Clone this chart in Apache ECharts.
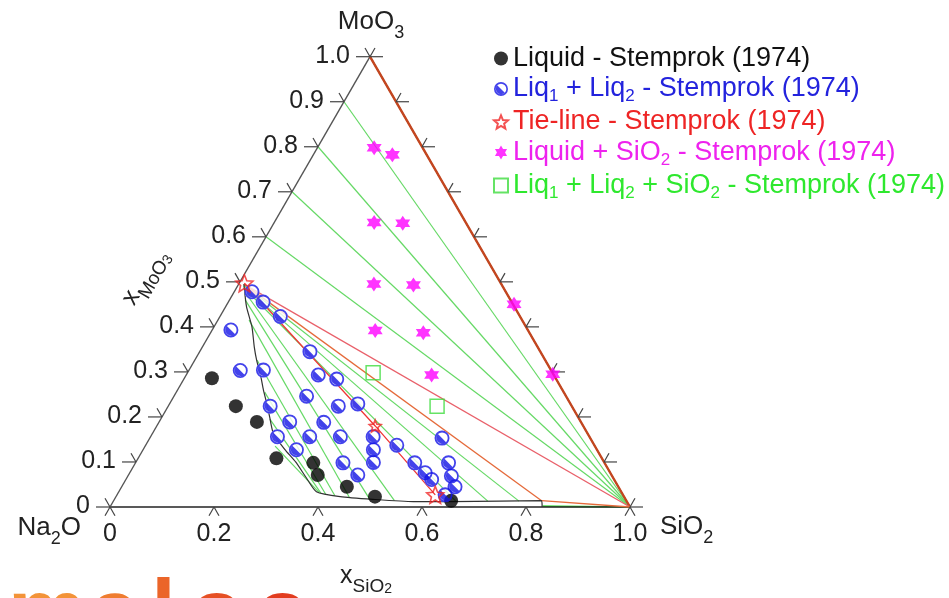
<!DOCTYPE html>
<html><head><meta charset="utf-8">
<script src="https://cdn.jsdelivr.net/npm/echarts@6/dist/echarts.min.js"></script>
<style>html,body{margin:0;padding:0;background:#fff}#c{width:949px;height:598px}</style>
</head><body><div id="c"></div>
<script>
// ---- data: every point is [x_SiO2, x_MoO3] ----
const liquid = [[0.053,0.286],[0.130,0.224],[0.188,0.189],[0.266,0.108],[0.342,0.098],[0.364,0.071],[0.433,0.045],[0.498,0.023],[0.649,0.014]];
const liq1liq2 = [[0.034,0.478],[0.067,0.455],[0.116,0.423],[0.036,0.393],[0.212,0.345],[0.099,0.303],[0.143,0.304],[0.254,0.293],[0.294,0.284],[0.255,0.246],[0.196,0.224],[0.327,0.224],[0.362,0.229],[0.251,0.189],[0.317,0.188],[0.244,0.156],[0.306,0.156],[0.365,0.156],[0.428,0.156],[0.562,0.153],[0.295,0.127],[0.443,0.127],[0.483,0.137],[0.399,0.098],[0.457,0.099],[0.537,0.098],[0.602,0.098],[0.441,0.071],[0.568,0.076],[0.588,0.061],[0.622,0.069],[0.641,0.045],[0.631,0.027]];
const tieLine = [[0.010,0.497],[0.420,0.180],[0.612,0.027]];
const liqSiO2 = [[0.109,0.798],[0.152,0.782],[0.192,0.632],[0.248,0.630],[0.260,0.495],[0.337,0.493],[0.314,0.392],[0.409,0.387],[0.472,0.293],[0.552,0.450],[0.704,0.295]];
const liq1liq2SiO2 = [[0.357,0.298],[0.517,0.224]];

// calculated phase boundaries
const gapBoundary = [[0.010,0.495],[0.040,0.445],[0.073,0.400],[0.100,0.355],[0.119,0.326],[0.145,0.290],[0.165,0.260],[0.190,0.225],[0.207,0.200],[0.232,0.164],[0.272,0.128],[0.307,0.100],[0.345,0.065],[0.380,0.034],[0.431,0.023],[0.497,0.017],[0.577,0.012],[0.650,0.012],[0.743,0.013],[0.823,0.014],[0.831,0.000]];
const gapTieStarts = [[0.011,0.493],[0.012,0.490],[0.014,0.487],[0.020,0.478],[0.030,0.460],[0.060,0.415],[0.120,0.326],[0.170,0.255],[0.210,0.195],[0.250,0.135]];
const gapTieEnds   = [[0.780,0.013],[0.720,0.013],[0.660,0.012],[0.540,0.014],[0.490,0.018],[0.450,0.021],[0.420,0.025],[0.400,0.029],[0.390,0.031],[0.385,0.033]];
const siO2TieStarts = [[0,0.6],[0,0.7],[0,0.8],[0,0.9]];
const liq1Corner = [0.010,0.495];
const liq2Corner = [0.823,0.014];
const siO2Corner = [1,0];

// ticks / labels
const bottomTickValues = [0,0.2,0.4,0.6,0.8,1.0];
const bottomTickLabels = ['0','0.2','0.4','0.6','0.8','1.0'];
const leftTickValues = [0,0.1,0.2,0.3,0.4,0.5,0.6,0.7,0.8,0.9,1.0];
const leftTickLabels = ['0','0.1','0.2','0.3','0.4','0.5','0.6','0.7','0.8','0.9','1.0'];
const rightTickValues = [0,0.1,0.2,0.3,0.4,0.5,0.6,0.7,0.8,0.9,1.0];

const legendNames = ['Liquid - Stemprok (1974)','Liq1 + Liq2 - Stemprok (1974)','Tie-line - Stemprok (1974)','Liquid + SiO2 - Stemprok (1974)','Liq1 + Liq2 + SiO2 - Stemprok (1974)'];
const legendRich = [
  '{k|Liquid - Stemprok (1974)}',
  '{b|Liq}{bs|1}{b| + Liq}{bs|2}{b| - Stemprok (1974)}',
  '{r|Tie-line - Stemprok (1974)}',
  '{m|Liquid + SiO}{ms|2}{m| - Stemprok (1974)}',
  '{g|Liq}{gs|1}{g| + Liq}{gs|2}{g| + SiO}{gs|2}{g| - Stemprok (1974)}'
];

// ---- ternary -> cartesian (X along base, Y = x_MoO3) ----
const t = p => [p[0] + p[1] / 2, p[1]];
const FONT = '"Liberation Sans", Arial, Helvetica, sans-serif';

function starPath(n, ri) {
  let d = '';
  for (let k = 0; k < 2 * n; k++) {
    const r = k % 2 === 0 ? 10 : 10 * ri;
    const a = -Math.PI / 2 + k * Math.PI / n;
    d += (k === 0 ? 'M' : 'L') + (10 + r * Math.cos(a)).toFixed(3) + ',' + (10 + r * Math.sin(a)).toFixed(3);
  }
  return 'path://' + d + 'Z';
}
const star5 = starPath(5, 0.45);
const star6 = starPath(6, 0.58);
const halfCircle = 'path://M0,10A10,10 0 1,0 20,10A10,10 0 1,0 0,10Z M2.4,10A7.6,7.6 0 1,1 17.6,10A7.6,7.6 0 1,1 2.4,10Z M4.63,4.63L15.37,15.37A7.6,7.6 0 0,1 4.63,4.63Z';

const series = [];
function addLine(pts, color, width, z, smooth) {
  series.push({type:'line', data: pts.map(t), symbol:'none', silent:true, clip:false, z:z, smooth: smooth || false,
    lineStyle:{color:color, width:width}, emphasis:{disabled:true}, animation:false});
}
// green tie-lines
siO2TieStarts.forEach(p => addLine([p, siO2Corner], '#66d966', 1.2, 2));
gapTieStarts.forEach((p, i) => addLine([p, gapTieEnds[i]], '#66d966', 1.2, 2));
addLine([[0.831,0.002], siO2Corner], '#44dd44', 1.6, 2);
// triangle edges
addLine([[0,0],[1,0]], '#222', 1.4, 3);
addLine([[0,0],[0,1]], '#555', 1.4, 3);
addLine([[0,1],[1,0]], '#333', 1.4, 3);
addLine([[0,1],[1,0]], '#c4461f', 2.4, 3);
// three-phase triangle
addLine([liq1Corner, siO2Corner], '#e9606a', 1.3, 3);
addLine([liq1Corner, liq2Corner], '#e56a3a', 1.3, 3);
addLine([liq2Corner, siO2Corner], '#e56a3a', 1.3, 3);
// miscibility gap boundary
addLine(gapBoundary, '#333', 1.2, 3, 0.2);
// measured tie-line
addLine(tieLine, '#f03535', 1.3, 3);

// points
series.push({type:'scatter', name:legendNames[0], data: liquid.map(t), symbol:'circle', symbolSize:14, clip:false, z:6,
  itemStyle:{color:'#000'}});
series.push({type:'scatter', name:'_bg', data: liq1liq2.map(t), symbol:'circle', symbolSize:15, clip:false, z:5,
  itemStyle:{color:'#fff'}});
series.push({type:'scatter', name:legendNames[1], data: liq1liq2.map(t), symbol:halfCircle, symbolSize:15, clip:false, z:6,
  itemStyle:{color:'#1414e6'}});
series.push({type:'scatter', name:legendNames[2], data: tieLine.map(t), symbol:star5, symbolSize:(v, p) => p.dataIndex === 1 ? 12 : 17, clip:false, z:7,
  itemStyle:{color:'rgba(255,255,255,0)', borderColor:'#f02525', borderWidth:1.6}});
series.push({type:'scatter', name:legendNames[3], data: liqSiO2.map(t), symbol:star6, symbolSize:15, clip:false, z:6,
  itemStyle:{color:'#ff00ff'}});
series.push({type:'scatter', name:legendNames[4], data: liq1liq2SiO2.map(t), symbol:'rect', symbolSize:14, clip:false, z:6,
  itemStyle:{color:'rgba(255,255,255,0)', borderColor:'#3fdc3f', borderWidth:1.5}});

// ticks
const tickStyle = {stroke:'#444', lineWidth:1.2};
series.push({type:'custom', silent:true, z:4, clip:false, animation:false,
  data: bottomTickValues.map(s => t([s,0])),
  renderItem: (params, api) => {
    const p = api.coord([api.value(0), api.value(1)]);
    return {type:'group', children:[
      {type:'line', shape:{x1:p[0], y1:p[1], x2:p[0]-5, y2:p[1]+8.7}, style:tickStyle},
      {type:'line', shape:{x1:p[0], y1:p[1], x2:p[0]+5, y2:p[1]+8.7}, style:tickStyle}]};
  }});
series.push({type:'custom', silent:true, z:4, clip:false, animation:false,
  data: leftTickValues.map((m, i) => t([0,m]).concat([i])),
  renderItem: (params, api) => {
    const p = api.coord([api.value(0), api.value(1)]);
    const i = api.value(2);
    return {type:'group', children:[
      {type:'line', shape:{x1:p[0], y1:p[1], x2:p[0]-14, y2:p[1]}, style:tickStyle},
      {type:'line', shape:{x1:p[0], y1:p[1], x2:p[0]-5, y2:p[1]-8.7}, style:tickStyle},
      {type:'text', x:p[0]-20, y:p[1]-1, style:{text:leftTickLabels[i], fill:'#222', fontSize:25, fontFamily:FONT, align:'right', verticalAlign:'middle'}}]};
  }});
series.push({type:'custom', silent:true, z:4, clip:false, animation:false,
  data: rightTickValues.map(m => t([1-m,m])),
  renderItem: (params, api) => {
    const p = api.coord([api.value(0), api.value(1)]);
    return {type:'group', children:[
      {type:'line', shape:{x1:p[0], y1:p[1], x2:p[0]+13, y2:p[1]}, style:tickStyle},
      {type:'line', shape:{x1:p[0], y1:p[1], x2:p[0]+5, y2:p[1]-8.7}, style:tickStyle}]};
  }});

function richMain(size, lh) { return {fontSize:size, lineHeight:lh, fontFamily:FONT, fill:'#222'}; }
function richSub(size, lh) { return {fontSize:size, lineHeight:lh, fontFamily:FONT, fill:'#222', verticalAlign:'bottom'}; }

const option = {
  animation:false,
  backgroundColor:'#fff',
  grid:{left:110, top:56.7, width:520, height:450.3, containLabel:false, outerBoundsMode:'none'},
  xAxis:{type:'value', min:0, max:1, interval:0.2,
    axisLine:{show:false}, axisTick:{show:false}, splitLine:{show:false},
    axisLabel:{fontSize:25, color:'#222', margin:15, fontFamily:FONT,
      formatter: v => bottomTickLabels[Math.round(v / 0.2)]}},
  yAxis:{type:'value', min:0, max:1, show:false},
  legend:{orient:'vertical', left:493, top:45, padding:0, itemWidth:14, itemHeight:14, itemGap:3.5, selectedMode:false,
    data: legendNames.map((n, i) => ({name:n, icon:[ 'circle', halfCircle, star5, star6, 'rect'][i]})),
    formatter: name => legendRich[legendNames.indexOf(name)],
    textStyle:{fontFamily:FONT, fontSize:27, rich:{
      k:{color:'#111', fontSize:27, lineHeight:32, fontFamily:FONT},
      b:{color:'#2323dd', fontSize:27, lineHeight:32, fontFamily:FONT},
      bs:{color:'#2323dd', fontSize:17, lineHeight:14, verticalAlign:'bottom', fontFamily:FONT},
      r:{color:'#ee2424', fontSize:27, lineHeight:32, fontFamily:FONT},
      m:{color:'#ee22ee', fontSize:27, lineHeight:32, fontFamily:FONT},
      ms:{color:'#ee22ee', fontSize:17, lineHeight:14, verticalAlign:'bottom', fontFamily:FONT},
      g:{color:'#2ee82e', fontSize:27, lineHeight:32, fontFamily:FONT},
      gs:{color:'#2ee82e', fontSize:17, lineHeight:14, verticalAlign:'bottom', fontFamily:FONT}
    }}},
  graphic:[
    {type:'text', x:371, y:2, silent:true, style:{text:'{a|MoO}{s|3}', align:'center', verticalAlign:'top',
      rich:{a:richMain(26,40), s:richSub(18,18)}}},
    {type:'text', x:81, y:508, silent:true, style:{text:'{a|Na}{s|2}{a|O}', align:'right', verticalAlign:'top',
      rich:{a:richMain(26,40), s:richSub(18,18)}}},
    {type:'text', x:660, y:507, silent:true, style:{text:'{a|SiO}{s|2}', align:'left', verticalAlign:'top',
      rich:{a:richMain(26,40), s:richSub(18,18)}}},
    {type:'text', x:340, y:556, silent:true, style:{text:'{a|x}{s|SiO}{u|2}', align:'left', verticalAlign:'top',
      rich:{a:richMain(25,40), s:richSub(19,16), u:richSub(14,8)}}},
    {type:'text', x:128, y:303, rotation:Math.PI/3, silent:true, style:{text:'{a|x}{s|MoO}{u|3}', align:'left', verticalAlign:'middle',
      rich:{a:richMain(25,40), s:richSub(19,16), u:richSub(14,8)}}},
    {type:'text', x:8, y:616, silent:true, style:{text:'{a|m}{b|a}{c|l}{d|o}{e|o}', align:'left', verticalAlign:'middle',
      rich:{
        a:{fontSize:88, fontWeight:'bold', fontFamily:FONT, fill:'#f39338', padding:[0,4,0,0]},
        b:{fontSize:88, fontWeight:'bold', fontFamily:FONT, fill:'#ef7d30', padding:[0,12,0,0]},
        c:{fontSize:88, fontWeight:'bold', fontFamily:FONT, fill:'#eb6529', padding:[0,14,0,0]},
        d:{fontSize:88, fontWeight:'bold', fontFamily:FONT, fill:'#e65024', padding:[0,12,0,0]},
        e:{fontSize:88, fontWeight:'bold', fontFamily:FONT, fill:'#e23c1f'}}}}
  ],
  series: series
};
const chart = echarts.init(document.getElementById('c'));
chart.setOption(option);
</script>
</body></html>
